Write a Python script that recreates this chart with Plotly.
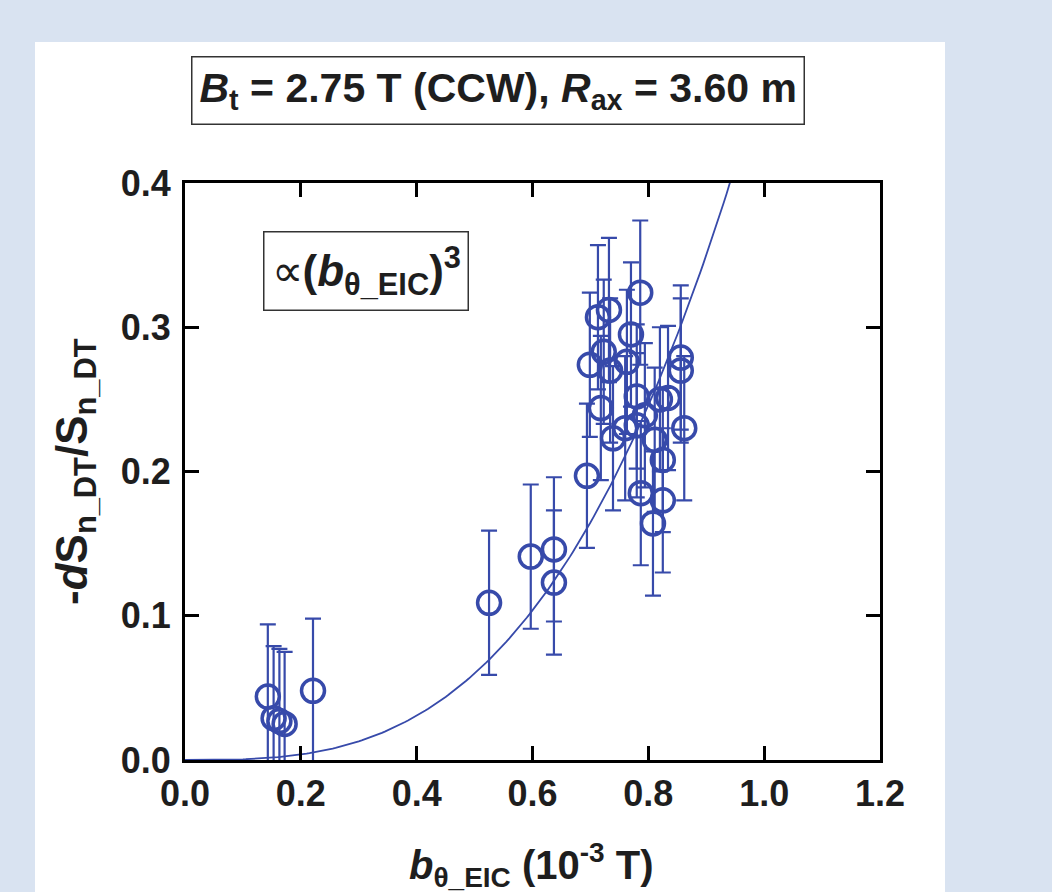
import numpy as np
import plotly.graph_objects as go

# data
b_eic = [0.143, 0.153, 0.163, 0.172, 0.221,
         0.525, 0.597, 0.637, 0.637,
         0.786, 0.732, 0.713, 0.723, 0.699, 0.734, 0.770, 0.763,
         0.718, 0.739, 0.780, 0.760, 0.780, 0.794, 0.820, 0.834,
         0.811, 0.825, 0.787, 0.808, 0.825, 0.694, 0.856, 0.856, 0.862]
ratio = [0.044, 0.029, 0.027, 0.025, 0.048,
         0.109, 0.141, 0.146, 0.123,
         0.324, 0.312, 0.307, 0.283, 0.274, 0.270, 0.295, 0.276,
         0.244, 0.223, 0.252, 0.230, 0.232, 0.239, 0.250, 0.251,
         0.222, 0.208, 0.185, 0.164, 0.180, 0.197, 0.279, 0.270, 0.230]
err = [0.05] * len(b_eic)
fit_coef = 0.48  # fitted curve y = k * b^3

xticks = [0.0, 0.2, 0.4, 0.6, 0.8, 1.0, 1.2]
yticks = [0.0, 0.1, 0.2, 0.3, 0.4]

blue = "rgb(55,74,170)"
font_family = "Liberation Sans, Arial, sans-serif"
txt = "#1e1e1e"

xfit = np.linspace(0, 1.2, 241)
yfit = fit_coef * xfit ** 3

fig = go.Figure()
fig.add_trace(go.Scatter(x=xfit, y=yfit, mode="lines",
                         line=dict(color=blue, width=1.8), hoverinfo="skip"))
fig.add_trace(go.Scatter(
    x=b_eic, y=ratio, mode="markers",
    marker=dict(symbol="circle-open", size=23, color=blue, line=dict(width=3.5, color=blue)),
    error_y=dict(type="data", array=err, visible=True, color=blue, thickness=2.2, width=8),
))

W, H = 1052, 892
L, R, T, B = 185, 880, 183, 760
pw, ph = R - L, B - T

def px(xp):
    return (xp - L) / pw

def py(yp):
    return (B - yp) / ph

fig.add_shape(type="rect", xref="paper", yref="paper",
              x0=px(35), x1=px(945), y0=py(900), y1=py(42),
              fillcolor="white", line=dict(width=0), layer="below")

axis_common = dict(showgrid=False, zeroline=False, showline=True, linecolor="black", linewidth=3,
                   mirror="ticks", ticks="inside", ticklen=14, tickwidth=3, tickcolor="black",
                   tickfont=dict(family=font_family, size=36, color=txt, weight="bold"))

fig.update_xaxes(range=[0, 1.2], tickvals=xticks, ticktext=[f"{v:.1f}" for v in xticks], **axis_common)
fig.update_yaxes(range=[0, 0.4], tickvals=yticks, ticktext=[f"{v:.1f}" for v in yticks],
                 ticklabelstandoff=4, **axis_common)

fig.add_annotation(xref="paper", yref="paper", x=px(498), y=py(90), xanchor="center", yanchor="middle",
                   showarrow=False,
                   text="<b><i>B</i><sub>t</sub> = 2.75 T (CCW), <i>R</i><sub>ax</sub> = 3.60 m</b>",
                   font=dict(family=font_family, size=41, color=txt),
                   bordercolor="#333", borderwidth=1.5, borderpad=7, bgcolor="white")

fig.add_annotation(xref="paper", yref="paper", x=px(366), y=py(271), xanchor="center", yanchor="middle",
                   showarrow=False,
                   text="∝<b>(<i>b</i><sub>θ_EIC</sub>)<sup>3</sup></b>",
                   font=dict(family=font_family, size=44, color=txt),
                   bordercolor="#333", borderwidth=1.5, borderpad=7, bgcolor="white")

fig.add_annotation(xref="paper", yref="paper", x=px(75), y=py(472), xanchor="center", yanchor="middle",
                   showarrow=False, textangle=-90,
                   text="<b>-<i>d</i>S<sub>n_DT</sub>/S<sub>n_DT</sub></b>",
                   font=dict(family=font_family, size=44, color=txt))

fig.add_annotation(xref="paper", yref="paper", x=px(531), y=py(865), xanchor="center", yanchor="middle",
                   showarrow=False,
                   text="<b><i>b</i><sub>θ_EIC</sub> (10<sup>-3</sup> T)</b>",
                   font=dict(family=font_family, size=40, color=txt))

fig.update_layout(width=W, height=H, margin=dict(l=L, r=W - R, t=T, b=H - B, autoexpand=False),
                  paper_bgcolor="rgb(217,227,241)", plot_bgcolor="white", showlegend=False)

fig.write_html("out.html", config={"displayModeBar": False},
               post_script="document.body.style.margin='0';document.body.style.background='rgb(217,227,241)';")
